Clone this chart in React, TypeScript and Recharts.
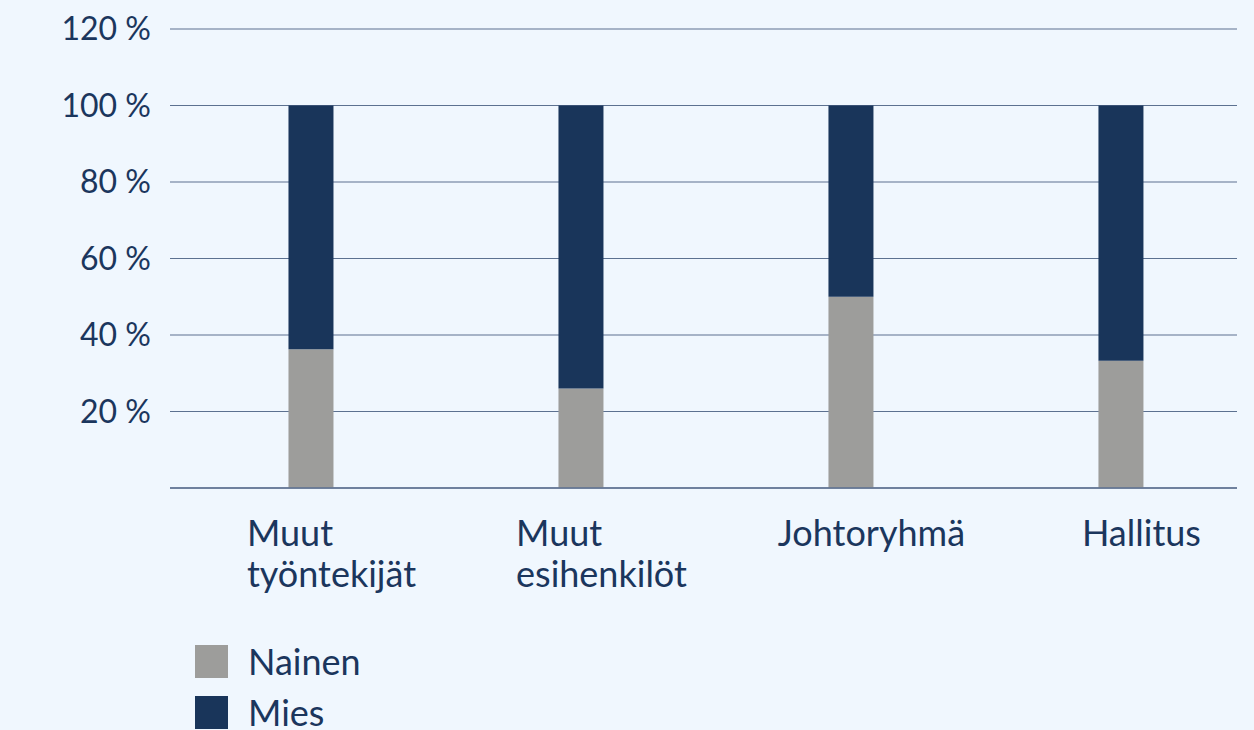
import { BarChart, Bar, XAxis, YAxis, CartesianGrid, Legend } from "recharts";

const categories = ["Muut työntekijät", "Muut esihenkilöt", "Johtoryhmä", "Hallitus"];
const seriesNames = ["Nainen", "Mies"];
const nainen = [36.3, 26, 50, 33.3];
const mies = [63.7, 74, 50, 66.7];
const yTicks = [0, 20, 40, 60, 80, 100, 120];

const data = categories.map((name, i) => ({ idx: i, name, Nainen: nainen[i], Mies: mies[i] }));

const NAVY = "#19355a";
const GREY = "#9d9d9b";
const TEXT = "#1b365d";
const GRID = "#5c7190";
const FONT = "Lato, 'Open Sans', sans-serif";
const LABEL_SIZE = 36;

let ctx: CanvasRenderingContext2D | null = null;
const measure = (s: string) => {
  if (!ctx) ctx = document.createElement("canvas").getContext("2d");
  if (!ctx) return s.length * 16;
  ctx.font = `${LABEL_SIZE}px Lato`;
  return ctx.measureText(s).width;
};

// category label: lines left-aligned, block roughly centred near the bar
const CategoryTick = (props: any) => {
  const { x, y, payload } = props;
  const label = categories[payload.value] ?? "";
  const lines = label.split(" ");
  const w = Math.max(...lines.map(measure));
  const left = x + 20 - w / 2;
  return (
    <text x={left} y={y} fill={TEXT} fontSize={LABEL_SIZE} fontFamily={FONT} textAnchor="start">
      {lines.map((l, i) => (
        <tspan key={i} x={left} dy={i === 0 ? 50 : 41}>
          {l}
        </tspan>
      ))}
    </text>
  );
};

const LegendContent = (props: any) => {
  const items = [...(props.payload ?? [])].sort(
    (a: any, b: any) => seriesNames.indexOf(a.value) - seriesNames.indexOf(b.value)
  );
  return (
    <div style={{ height: 100, paddingTop: 6, paddingLeft: 195, boxSizing: "border-box" }}>
      {items.map((p: any) => (
        <div key={p.value} style={{ display: "flex", alignItems: "center", height: 51 }}>
          <span style={{ width: 33, height: 33, background: p.color, marginRight: 20, display: "inline-block" }} />
          <span style={{ fontSize: 36, color: TEXT, fontFamily: FONT, lineHeight: "33px" }}>{p.value}</span>
        </div>
      ))}
    </div>
  );
};

export default function App() {
  return (
    <div style={{ position: "absolute", top: 0, left: 0, width: 1254, height: 730, background: "#f0f7fe" }}>
      <BarChart
        width={1254}
        height={730}
        data={data}
        margin={{ top: 29, right: 17, bottom: 0, left: 0 }}
      >
        <CartesianGrid vertical={false} stroke={GRID} strokeWidth={1.2} />
        <XAxis
          dataKey="idx"
          type="number"
          domain={[-0.524, 3.428]}
          ticks={[0, 1, 2, 3]}
          allowDataOverflow
          height={142}
          tickLine={false}
          axisLine={{ stroke: GRID, strokeWidth: 1.5 }}
          tick={<CategoryTick />}
          interval={0}
        />
        <YAxis
          domain={[0, 120]}
          ticks={yTicks}
          width={170}
          tickLine={false}
          axisLine={false}
          tickMargin={19}
          tickSize={0}
          tick={{ fill: TEXT, fontSize: 32, fontFamily: FONT }}
          tickFormatter={(v: number) => (v === 0 ? "" : `${v} %`)}
        />
        <Legend verticalAlign="bottom" content={<LegendContent />} />
        <Bar dataKey="Nainen" stackId="a" fill={GREY} barSize={45} isAnimationActive={false} />
        <Bar dataKey="Mies" stackId="a" fill={NAVY} barSize={45} isAnimationActive={false} />
      </BarChart>
    </div>
  );
}
